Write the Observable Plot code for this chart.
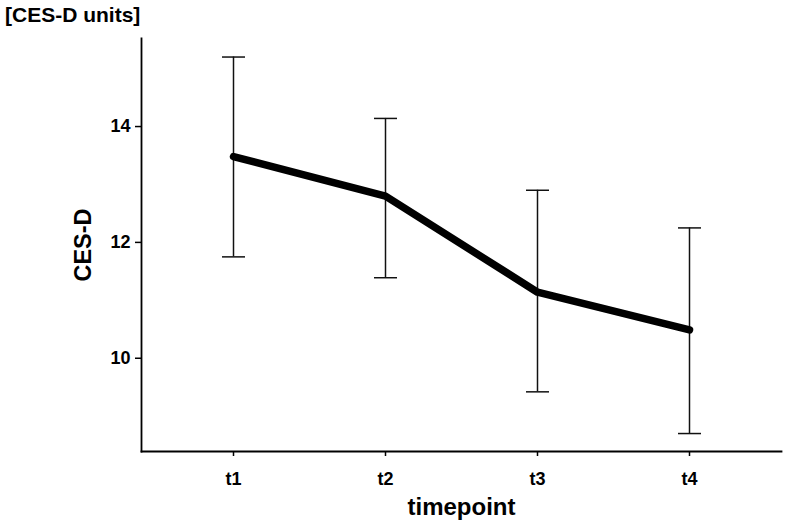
<!DOCTYPE html>
<html>
<head>
<meta charset="utf-8">
<script src="https://cdn.jsdelivr.net/npm/d3@7"></script>
<script src="https://cdn.jsdelivr.net/npm/@observablehq/plot@0.6"></script>
<style>
  html, body { margin: 0; padding: 0; background: white; }
  #wrap { position: relative; width: 787px; height: 522px; overflow: hidden; }
  #title { position: absolute; left: 5px; top: 4px; font: bold 21px "Liberation Sans", Arial, sans-serif; line-height: 1; color: #000; }
  #chart { position: absolute; left: 0; top: 30px; }
</style>
</head>
<body>
<div id="wrap">
  <div id="title">[CES-D units]</div>
  <div id="chart"></div>
</div>
<script>
const timepoints = ["t1", "t2", "t3", "t4"];
const means = [13.48, 12.80, 11.14, 10.49];
const upper = [15.20, 14.14, 12.90, 12.25];
const lower = [11.75, 11.39, 9.42, 8.70];
const yTicks = [10, 12, 14];
const yDomain = [8.39, 15.52];

const data = timepoints.map((t, i) => ({t, m: means[i], hi: upper[i], lo: lower[i]}));

// horizontal cap symbol for error bars
const capHalf = 11.5;
const capSymbol = {
  draw(context) {
    context.moveTo(-capHalf, 0);
    context.lineTo(capHalf, 0);
  }
};

const chart = Plot.plot({
  width: 787,
  height: 492,
  marginLeft: 141,
  marginRight: 6,
  marginTop: 8,
  marginBottom: 71,
  style: {fontFamily: "'Liberation Sans', Arial, sans-serif", background: "white", color: "#000"},
  x: {type: "point", domain: timepoints, padding: 0.6},
  y: {domain: yDomain},
  marks: [
    Plot.frame({anchor: "left", strokeWidth: 1.8}),
    Plot.frame({anchor: "bottom", strokeWidth: 1.8}),
    Plot.axisY({ticks: yTicks, tickSize: 6, tickPadding: 5, fontSize: 18, fontWeight: "bold", label: null, strokeWidth: 1.5}),
    Plot.axisX({tickSize: 5, tickPadding: 16, fontSize: 18, fontWeight: "bold", label: null, strokeWidth: 1.5}),
    Plot.ruleX(data, {x: "t", y1: "lo", y2: "hi", stroke: "#111", strokeWidth: 1.5}),
    Plot.dot(data, {x: "t", y: "hi", symbol: capSymbol, fill: "none", stroke: "#111", strokeWidth: 1.5}),
    Plot.dot(data, {x: "t", y: "lo", symbol: capSymbol, fill: "none", stroke: "#111", strokeWidth: 1.5}),
    Plot.line(data, {x: "t", y: "m", stroke: "#000", strokeWidth: 7.5, strokeLinecap: "round", strokeLinejoin: "round"}),
    Plot.text(["CES-D"], {text: d => d, frameAnchor: "left", textAnchor: "middle", lineAnchor: "middle", rotate: -90, dx: -58, fontSize: 23.5, fontWeight: "bold"}),
    Plot.text(["timepoint"], {text: d => d, frameAnchor: "bottom", textAnchor: "middle", lineAnchor: "bottom", dy: 63, fontSize: 24, fontWeight: "bold"})
  ]
});
document.getElementById("chart").appendChild(chart);
</script>
</body>
</html>
